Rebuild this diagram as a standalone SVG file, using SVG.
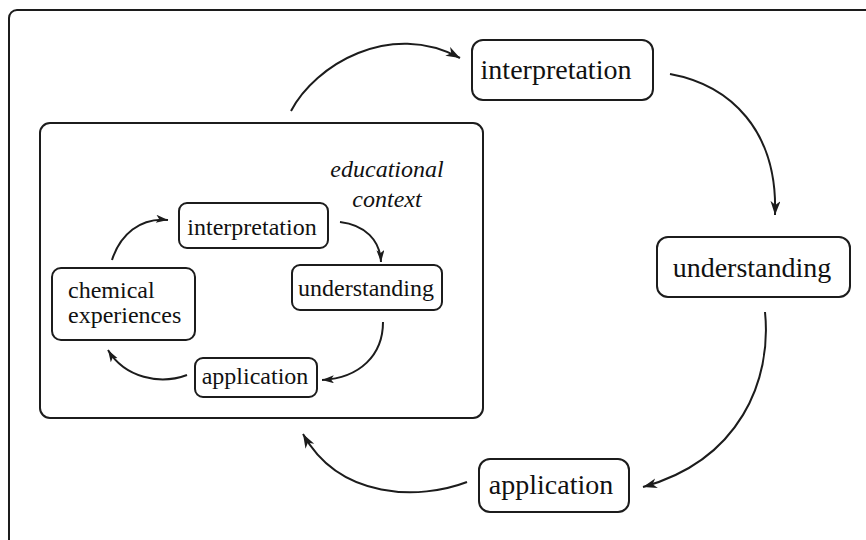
<svg xmlns="http://www.w3.org/2000/svg" width="866" height="540" viewBox="0 0 866 540">
<style>
.box{fill:#fff;stroke:#1c1c1c;stroke-width:2}
.frame{fill:none;stroke:#1c1c1c;stroke-width:2}
.con{fill:none;stroke:#1c1c1c;stroke-width:2}
.big{font-family:"Liberation Serif","Times New Roman",serif;font-size:28px;fill:#111;text-anchor:middle}
.sm{font-family:"Liberation Serif","Times New Roman",serif;font-size:24px;fill:#111;text-anchor:middle}
.it{font-family:"Liberation Serif","Times New Roman",serif;font-size:24px;font-style:italic;fill:#111;text-anchor:middle}
</style>
<defs>
<marker id="ah" markerUnits="userSpaceOnUse" markerWidth="16" markerHeight="12" refX="14" refY="5" orient="auto">
<path d="M0,0 L14,5 L0,10 L4,5 Z" fill="#1c1c1c"/>
</marker>
<marker id="ahs" markerUnits="userSpaceOnUse" markerWidth="14" markerHeight="10" refX="12" refY="4" orient="auto">
<path d="M0,0 L12,4 L0,8 L3,4 Z" fill="#1c1c1c"/>
</marker>
</defs>
<rect width="866" height="540" fill="#fff"/>
<g id="outer"><rect class="frame" x="9" y="10" width="900" height="540" rx="8"/></g>
<g id="context"><rect class="frame" x="40" y="123" width="443" height="295" rx="10"/>
<text class="it" x="387" y="177">educational</text>
<text class="it" x="387" y="207">context</text></g>
<g id="connectors">
<path class="con" marker-end="url(#ah)" d="M291,111 C315,65 390,20 460,58"/>
<path class="con" marker-end="url(#ah)" d="M670,74 C730,85 778,130 775,215"/>
<path class="con" marker-end="url(#ah)" d="M765,312 C772,380 740,460 643,487"/>
<path class="con" marker-end="url(#ah)" d="M467,482 C420,500 340,500 303,434"/>
<path class="con" marker-end="url(#ahs)" d="M112,260 C120,235 140,217 168,220"/>
<path class="con" marker-end="url(#ahs)" d="M340,222 C365,225 380,240 381,262"/>
<path class="con" marker-end="url(#ahs)" d="M383,322 C383,355 360,378 322,380"/>
<path class="con" marker-end="url(#ahs)" d="M187,375 C160,385 125,378 108,350"/>
</g>
<g id="interp-big"><rect class="box" x="472" y="40" width="181" height="60" rx="11"/><text class="big" x="556" y="79">interpretation</text></g>
<g id="under-big"><rect class="box" x="657" y="237" width="193" height="60" rx="11"/><text class="big" x="752" y="277">understanding</text></g>
<g id="appl-big"><rect class="box" x="479" y="459" width="150" height="53" rx="11"/><text class="big" x="551" y="494">application</text></g>
<g id="interp-sm"><rect class="box" x="179" y="203" width="149" height="45" rx="8"/><text class="sm" x="252" y="235">interpretation</text></g>
<g id="under-sm"><rect class="box" x="292" y="265" width="150" height="45" rx="8"/><text class="sm" x="366" y="296">understanding</text></g>
<g id="chem"><rect class="box" x="52" y="268" width="143" height="72" rx="9"/><text class="sm" x="68" y="298" style="text-anchor:start">chemical</text><text class="sm" x="68" y="323" style="text-anchor:start">experiences</text></g>
<g id="appl-sm"><rect class="box" x="195" y="358" width="122" height="39" rx="8"/><text class="sm" x="255" y="384">application</text></g>
</svg>
